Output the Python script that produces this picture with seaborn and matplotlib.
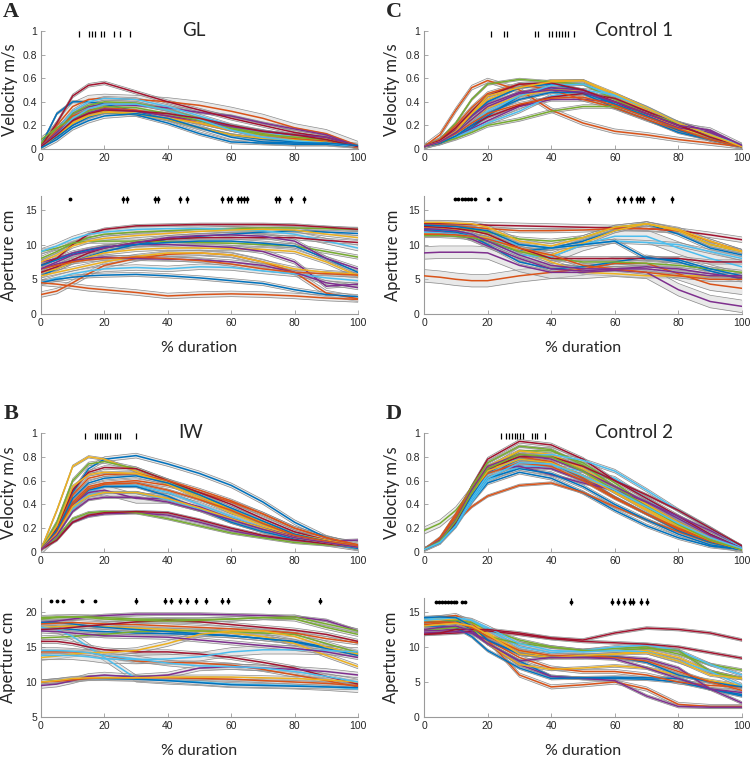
import numpy as np
import matplotlib
matplotlib.use("Agg")
import matplotlib.pyplot as plt
import seaborn as sns

# % of movement duration at which every trace is sampled
pct = [0, 5, 10, 15, 20, 30, 40, 50, 60, 70, 80, 90, 100]

# MATLAB default colour order (traces cycle through it)
matlab_colors = ["#0072BD", "#D95319", "#EDB120", "#7E2F8E", "#77AC30", "#4DBEEE", "#A2142F"]

# ---------------- A: GL ----------------
gl_vel = [
    [0.03, 0.30, 0.40, 0.40, 0.38, 0.32, 0.25, 0.18, 0.12, 0.08, 0.06, 0.05, 0.02],
    [0.03, 0.20, 0.36, 0.42, 0.43, 0.42, 0.40, 0.37, 0.32, 0.26, 0.18, 0.13, 0.03],
    [0.01, 0.10, 0.22, 0.30, 0.32, 0.30, 0.25, 0.18, 0.12, 0.09, 0.08, 0.06, 0.02],
    [0.02, 0.15, 0.30, 0.36, 0.38, 0.37, 0.35, 0.31, 0.28, 0.22, 0.17, 0.12, 0.02],
    [0.05, 0.17, 0.30, 0.37, 0.40, 0.39, 0.33, 0.26, 0.18, 0.13, 0.09, 0.07, 0.02],
    [0.02, 0.16, 0.32, 0.40, 0.43, 0.42, 0.36, 0.28, 0.20, 0.15, 0.10, 0.07, 0.02],
    [0.02, 0.22, 0.45, 0.54, 0.56, 0.48, 0.40, 0.33, 0.26, 0.20, 0.14, 0.10, 0.02],
    [0.02, 0.10, 0.20, 0.27, 0.31, 0.29, 0.22, 0.13, 0.06, 0.05, 0.04, 0.04, 0.02],
    [0.02, 0.16, 0.28, 0.33, 0.35, 0.33, 0.28, 0.22, 0.16, 0.12, 0.09, 0.07, 0.01],
    [0.01, 0.12, 0.22, 0.28, 0.31, 0.30, 0.26, 0.22, 0.16, 0.12, 0.10, 0.08, 0.02],
    [0.02, 0.14, 0.25, 0.31, 0.34, 0.32, 0.28, 0.24, 0.19, 0.15, 0.12, 0.10, 0.02],
    [0.08, 0.18, 0.26, 0.32, 0.36, 0.35, 0.30, 0.24, 0.17, 0.12, 0.10, 0.08, 0.02],
    [0.02, 0.12, 0.26, 0.34, 0.38, 0.38, 0.33, 0.25, 0.16, 0.10, 0.07, 0.05, 0.02],
    [0.02, 0.12, 0.24, 0.30, 0.33, 0.32, 0.30, 0.26, 0.20, 0.15, 0.12, 0.08, 0.02],
    [0.01, 0.08, 0.18, 0.24, 0.28, 0.30, 0.26, 0.18, 0.10, 0.06, 0.05, 0.05, 0.03],
]
gl_vel_se = [0.01, 0.035, 0.01, 0.01, 0.012, 0.015, 0.015, 0.015, 0.01, 0.01, 0.01, 0.02, 0.01, 0.01, 0.02]
gl_vel_peak = [12, 15, 16, 17, 19, 20, 23, 25, 28]

gl_ap = [
    [5.5, 6.5, 7.5, 8.3, 9.0, 10.0, 10.8, 11.2, 11.5, 11.8, 12.0, 11.8, 11.6],
    [2.8, 3.3, 4.5, 5.8, 7.0, 8.0, 8.6, 8.8, 8.5, 7.5, 6.0, 3.0, 2.2],
    [6.0, 6.5, 7.5, 8.2, 8.8, 9.3, 9.5, 9.5, 9.4, 9.3, 9.0, 7.5, 5.5],
    [7.5, 8.0, 8.8, 9.3, 9.7, 10.0, 10.0, 9.8, 9.6, 9.0, 7.5, 4.0, 4.3],
    [8.0, 9.0, 10.2, 11.0, 11.5, 11.8, 12.0, 12.2, 12.3, 12.4, 12.4, 12.3, 12.2],
    [4.5, 5.2, 5.8, 6.2, 6.5, 6.7, 6.5, 6.8, 6.7, 6.2, 5.8, 5.2, 4.8],
    [7.0, 8.0, 10.0, 11.5, 12.2, 12.7, 12.8, 12.9, 12.9, 12.9, 12.8, 12.5, 12.2],
    [4.5, 5.0, 5.3, 5.5, 5.6, 5.7, 5.5, 5.2, 4.8, 4.4, 3.5, 2.8, 2.5],
    [4.5, 4.3, 4.0, 3.7, 3.5, 3.1, 2.6, 2.8, 2.9, 2.8, 2.6, 2.3, 2.1],
    [5.5, 6.0, 6.5, 7.0, 7.5, 8.3, 8.8, 8.8, 8.5, 7.5, 6.5, 6.0, 5.7],
    [6.5, 7.2, 7.7, 8.0, 8.2, 8.0, 7.9, 7.8, 7.5, 7.0, 6.0, 4.5, 3.8],
    [9.0, 9.5, 10.2, 10.5, 10.5, 10.5, 10.4, 10.3, 10.2, 10.0, 9.8, 9.0, 8.2],
    [9.0, 9.8, 10.8, 11.5, 11.8, 12.2, 12.3, 12.3, 12.2, 12.0, 11.5, 10.5, 9.5],
    [6.0, 6.8, 7.8, 8.8, 9.5, 10.3, 10.8, 11.0, 11.0, 11.0, 11.0, 10.6, 10.3],
    [7.0, 7.8, 8.6, 9.2, 9.6, 10.0, 10.3, 10.5, 10.5, 10.2, 9.8, 8.0, 6.0],
    [6.5, 7.0, 7.5, 7.8, 8.0, 8.2, 8.0, 7.7, 7.2, 6.5, 6.0, 5.8, 5.6],
    [7.5, 8.5, 9.8, 10.5, 10.9, 11.3, 11.6, 11.9, 12.1, 12.2, 12.1, 11.5, 11.0],
    [6.5, 7.5, 8.5, 9.0, 9.5, 10.3, 11.0, 11.3, 11.4, 11.2, 10.5, 8.0, 6.5],
]
gl_ap_se = [0.3, 0.4, 0.3, 0.3, 0.3, 0.4, 0.2, 0.3, 0.4, 0.3, 0.3, 0.3, 0.4, 0.3, 0.3, 0.3, 0.3, 0.3]
gl_ap_peak = [9, 26, 27, 36, 37, 44, 46, 57, 59, 60, 62, 63, 64, 65, 74, 75, 79, 83]
gl_ap_peak_sd = [0.1, 0.45, 0.45, 0.45, 0.45, 0.45, 0.45, 0.45, 0.45, 0.45, 0.45, 0.45, 0.45, 0.45, 0.45, 0.45, 0.45, 0.45]

# ---------------- B: IW ----------------
iw_vel = [
    [0.02, 0.20, 0.50, 0.70, 0.78, 0.81, 0.74, 0.66, 0.56, 0.42, 0.25, 0.12, 0.05],
    [0.02, 0.18, 0.42, 0.55, 0.58, 0.60, 0.56, 0.50, 0.42, 0.32, 0.20, 0.12, 0.06],
    [0.02, 0.35, 0.72, 0.80, 0.78, 0.68, 0.57, 0.45, 0.33, 0.22, 0.14, 0.08, 0.04],
    [0.02, 0.12, 0.25, 0.30, 0.32, 0.33, 0.31, 0.25, 0.18, 0.13, 0.10, 0.09, 0.10],
    [0.02, 0.25, 0.60, 0.74, 0.76, 0.70, 0.60, 0.48, 0.35, 0.24, 0.14, 0.08, 0.05],
    [0.02, 0.15, 0.38, 0.50, 0.55, 0.56, 0.50, 0.40, 0.30, 0.20, 0.12, 0.08, 0.04],
    [0.02, 0.20, 0.52, 0.67, 0.71, 0.70, 0.60, 0.50, 0.40, 0.28, 0.17, 0.10, 0.05],
    [0.02, 0.15, 0.40, 0.52, 0.55, 0.55, 0.47, 0.36, 0.25, 0.17, 0.11, 0.07, 0.03],
    [0.02, 0.18, 0.48, 0.62, 0.65, 0.66, 0.60, 0.52, 0.43, 0.32, 0.20, 0.12, 0.06],
    [0.02, 0.22, 0.55, 0.65, 0.67, 0.66, 0.58, 0.47, 0.35, 0.25, 0.15, 0.10, 0.05],
    [0.02, 0.15, 0.40, 0.50, 0.52, 0.45, 0.45, 0.38, 0.28, 0.20, 0.13, 0.09, 0.05],
    [0.02, 0.12, 0.28, 0.33, 0.34, 0.33, 0.28, 0.22, 0.16, 0.12, 0.08, 0.06, 0.05],
    [0.02, 0.14, 0.36, 0.48, 0.50, 0.50, 0.44, 0.36, 0.27, 0.19, 0.12, 0.08, 0.03],
    [0.02, 0.10, 0.25, 0.31, 0.33, 0.34, 0.33, 0.27, 0.20, 0.14, 0.10, 0.07, 0.04],
    [0.02, 0.18, 0.45, 0.58, 0.62, 0.64, 0.58, 0.48, 0.37, 0.26, 0.15, 0.09, 0.03],
    [0.02, 0.16, 0.40, 0.53, 0.57, 0.58, 0.52, 0.44, 0.35, 0.24, 0.14, 0.09, 0.05],
    [0.02, 0.15, 0.38, 0.47, 0.50, 0.50, 0.45, 0.37, 0.28, 0.20, 0.12, 0.08, 0.04],
    [0.02, 0.14, 0.34, 0.44, 0.46, 0.46, 0.42, 0.35, 0.27, 0.19, 0.12, 0.08, 0.04],
]
iw_vel_se = [0.02, 0.015, 0.01, 0.01, 0.015, 0.01, 0.015, 0.01, 0.015, 0.01, 0.04, 0.01, 0.01, 0.01, 0.015, 0.01, 0.01, 0.01]
iw_vel_peak = [14, 17.1, 17.8, 18.7, 19.4, 20.1, 20.9, 21.7, 23.3, 24.1, 25, 30]

iw_ap = [
    [17.8, 17.7, 17.5, 17.3, 17.2, 17.0, 16.9, 16.8, 16.6, 16.2, 15.7, 14.8, 13.8],
    [14.3, 14.3, 14.3, 14.2, 13.8, 13.0, 12.8, 12.7, 12.4, 11.8, 11.0, 10.2, 9.3],
    [17.8, 17.9, 18.0, 18.0, 17.9, 17.7, 17.5, 17.3, 17.0, 16.5, 15.5, 13.8, 12.2],
    [18.5, 18.7, 19.0, 19.3, 19.5, 19.7, 19.7, 19.7, 19.6, 19.5, 19.3, 18.8, 17.3],
    [16.3, 16.4, 16.5, 16.7, 16.8, 17.2, 17.3, 17.3, 17.2, 17.0, 16.8, 15.5, 14.2],
    [17.8, 17.5, 16.5, 15.0, 13.5, 10.5, 10.2, 10.0, 9.7, 9.6, 9.5, 9.3, 9.0],
    [15.8, 15.8, 15.5, 15.0, 14.6, 14.3, 14.3, 14.0, 13.5, 12.8, 12.0, 10.8, 9.7],
    [18.5, 18.5, 18.3, 18.0, 17.8, 17.5, 17.2, 16.9, 16.6, 16.2, 15.8, 15.0, 14.0],
    [18.3, 18.4, 18.5, 18.4, 18.3, 18.2, 18.0, 17.8, 17.6, 17.3, 17.0, 16.2, 15.6],
    [13.5, 13.7, 14.0, 14.2, 14.2, 14.5, 15.5, 16.8, 17.3, 17.3, 16.5, 15.0, 14.0],
    [9.5, 9.7, 10.2, 10.8, 11.0, 10.7, 11.0, 12.0, 12.2, 12.0, 11.8, 11.5, 11.0],
    [19.0, 19.2, 19.3, 19.3, 19.2, 19.0, 18.9, 18.9, 19.0, 19.2, 19.0, 17.8, 16.8],
    [13.8, 13.8, 13.8, 13.6, 13.3, 13.2, 13.3, 13.6, 14.3, 14.6, 14.6, 14.5, 14.3],
    [17.5, 17.6, 17.8, 18.0, 18.2, 18.6, 18.8, 18.6, 18.2, 17.8, 17.4, 16.8, 15.8],
    [10.0, 10.2, 10.4, 10.5, 10.5, 10.4, 10.2, 9.9, 9.6, 9.5, 9.4, 9.3, 9.2],
    [10.0, 10.1, 10.3, 10.5, 10.6, 10.6, 10.6, 10.5, 10.4, 10.2, 10.0, 9.8, 9.5],
    [10.0, 10.2, 10.5, 10.6, 10.6, 10.6, 10.7, 10.7, 10.7, 10.6, 10.5, 10.3, 10.0],
    [17.3, 17.2, 17.0, 16.8, 16.6, 16.5, 16.4, 16.0, 15.6, 15.2, 14.8, 14.3, 13.5],
    [19.2, 19.3, 19.3, 19.2, 19.0, 18.8, 18.7, 18.8, 19.0, 19.2, 19.3, 18.3, 17.3],
    [14.5, 14.5, 14.4, 14.2, 13.8, 13.3, 12.7, 12.3, 12.2, 12.0, 11.5, 10.8, 10.0],
]
iw_ap_se = [0.3, 0.3, 0.3, 0.2, 0.3, 0.5, 0.3, 0.3, 0.3, 0.4, 0.4, 0.3, 0.6, 0.3, 0.3, 0.3, 0.3, 0.3, 0.3, 0.4]
iw_ap_peak = [3, 5, 7, 13, 17, 30, 39, 41, 44, 46, 49, 52, 57, 59, 72, 88]
iw_ap_peak_sd = [0.1, 0.1, 0.1, 0.1, 0.1, 0.5, 0.5, 0.5, 0.5, 0.5, 0.5, 0.5, 0.5, 0.5, 0.5, 0.5]

# ---------------- C: Control 1 ----------------
c1_vel = [
    [0.02, 0.05, 0.10, 0.18, 0.28, 0.45, 0.52, 0.47, 0.35, 0.25, 0.14, 0.08, 0.02],
    [0.02, 0.12, 0.33, 0.52, 0.58, 0.50, 0.33, 0.22, 0.15, 0.12, 0.08, 0.05, 0.02],
    [0.02, 0.07, 0.17, 0.30, 0.42, 0.52, 0.58, 0.58, 0.45, 0.33, 0.22, 0.12, 0.02],
    [0.02, 0.05, 0.10, 0.17, 0.24, 0.36, 0.42, 0.42, 0.40, 0.32, 0.22, 0.15, 0.02],
    [0.02, 0.08, 0.22, 0.42, 0.55, 0.59, 0.57, 0.55, 0.42, 0.30, 0.20, 0.10, 0.02],
    [0.02, 0.05, 0.10, 0.16, 0.22, 0.32, 0.45, 0.50, 0.46, 0.35, 0.22, 0.12, 0.03],
    [0.02, 0.05, 0.12, 0.20, 0.27, 0.37, 0.44, 0.47, 0.43, 0.32, 0.20, 0.12, 0.02],
    [0.02, 0.06, 0.15, 0.28, 0.40, 0.52, 0.55, 0.50, 0.38, 0.28, 0.18, 0.10, 0.02],
    [0.02, 0.08, 0.20, 0.35, 0.47, 0.55, 0.50, 0.42, 0.35, 0.25, 0.16, 0.08, 0.02],
    [0.02, 0.06, 0.14, 0.25, 0.35, 0.45, 0.50, 0.50, 0.40, 0.30, 0.18, 0.10, 0.02],
    [0.02, 0.07, 0.16, 0.28, 0.38, 0.48, 0.52, 0.50, 0.40, 0.28, 0.18, 0.14, 0.03],
    [0.02, 0.05, 0.09, 0.14, 0.20, 0.25, 0.32, 0.36, 0.36, 0.30, 0.22, 0.12, 0.02],
    [0.02, 0.06, 0.12, 0.22, 0.32, 0.45, 0.54, 0.55, 0.45, 0.35, 0.22, 0.12, 0.03],
    [0.02, 0.07, 0.18, 0.32, 0.45, 0.55, 0.56, 0.50, 0.40, 0.30, 0.20, 0.10, 0.02],
    [0.02, 0.05, 0.11, 0.20, 0.30, 0.42, 0.48, 0.48, 0.38, 0.28, 0.16, 0.08, 0.02],
    [0.02, 0.06, 0.13, 0.22, 0.30, 0.38, 0.43, 0.44, 0.37, 0.27, 0.17, 0.08, 0.02],
    [0.02, 0.06, 0.15, 0.30, 0.45, 0.52, 0.57, 0.58, 0.47, 0.35, 0.22, 0.12, 0.02],
    [0.02, 0.06, 0.14, 0.25, 0.36, 0.47, 0.50, 0.48, 0.40, 0.30, 0.20, 0.16, 0.03],
]
c1_vel_se = [0.01, 0.02, 0.01, 0.015, 0.01, 0.015, 0.01, 0.01, 0.015, 0.01, 0.01, 0.015, 0.01, 0.01, 0.01, 0.015, 0.01, 0.02]
c1_vel_peak = [21, 25, 26, 35, 36, 39.3, 40.3, 41.4, 42.4, 43.3, 44.2, 45.2, 47.2]

c1_ap = [
    [12.5, 12.3, 12.0, 11.5, 10.5, 9.0, 9.5, 10.5, 12.0, 13.0, 11.5, 9.5, 8.5],
    [5.5, 5.3, 5.0, 4.8, 4.8, 5.5, 6.0, 6.5, 7.3, 7.3, 5.8, 4.3, 3.7],
    [11.5, 11.5, 11.5, 11.3, 11.0, 9.5, 7.5, 6.0, 5.8, 5.5, 5.5, 5.5, 5.5],
    [8.8, 8.9, 8.9, 8.9, 8.8, 7.0, 6.0, 6.0, 6.3, 6.0, 3.5, 1.8, 1.1],
    [12.0, 12.2, 12.3, 12.2, 11.8, 10.8, 10.5, 11.0, 12.5, 13.0, 12.0, 10.0, 9.0],
    [12.3, 12.2, 12.0, 11.5, 10.5, 8.5, 8.2, 10.0, 11.2, 11.2, 9.5, 8.0, 6.8],
    [13.0, 13.0, 13.0, 12.9, 12.8, 12.7, 12.6, 12.5, 12.4, 12.3, 12.0, 11.4, 10.7],
    [12.2, 12.0, 11.8, 11.2, 10.0, 7.5, 6.5, 6.8, 7.5, 8.2, 7.5, 6.2, 5.0],
    [12.8, 12.8, 12.7, 12.5, 12.3, 12.0, 12.0, 12.1, 12.3, 12.3, 12.0, 10.5, 9.0],
    [12.5, 12.4, 12.2, 12.0, 11.5, 9.0, 8.5, 10.2, 12.0, 13.0, 12.2, 10.5, 9.0],
    [12.0, 11.8, 11.5, 10.8, 9.8, 8.0, 6.5, 6.2, 6.5, 6.8, 6.5, 5.8, 5.2],
    [11.3, 11.3, 11.2, 11.0, 10.5, 9.0, 8.0, 7.5, 7.5, 7.3, 7.0, 6.5, 6.0],
    [11.8, 11.7, 11.5, 11.2, 10.8, 10.0, 9.5, 10.0, 10.5, 10.3, 10.0, 9.0, 8.0],
    [12.6, 12.5, 12.3, 12.0, 11.5, 9.5, 8.0, 8.0, 8.0, 8.0, 8.0, 7.5, 7.5],
    [12.8, 12.7, 12.6, 12.3, 12.0, 10.0, 9.5, 10.0, 10.5, 8.0, 7.8, 6.5, 5.5],
    [11.5, 11.5, 11.4, 11.2, 10.8, 9.5, 8.5, 7.0, 6.5, 6.0, 5.5, 5.0, 5.0],
    [13.2, 13.2, 13.1, 13.0, 12.5, 10.5, 9.8, 11.0, 12.5, 13.0, 12.0, 10.0, 9.0],
    [12.3, 12.2, 12.0, 11.5, 10.5, 8.5, 7.0, 6.5, 6.5, 6.5, 6.0, 5.5, 5.5],
]
c1_ap_se = [0.3, 0.9, 0.3, 0.9, 0.3, 0.9, 0.4, 0.3, 0.3, 0.3, 0.3, 0.3, 0.3, 0.3, 0.3, 0.3, 0.3, 0.3]
c1_ap_peak = [9.7, 10.7, 11.8, 12.8, 13.9, 14.9, 16, 20, 24, 52, 61, 63, 65, 67, 68, 69, 72, 78]
c1_ap_peak_sd = [0.1, 0.1, 0.1, 0.1, 0.1, 0.1, 0.1, 0.1, 0.1, 0.5, 0.5, 0.5, 0.5, 0.5, 0.5, 0.5, 0.5, 0.5]

# ---------------- D: Control 2 ----------------
c2_vel = [
    [0.02, 0.08, 0.22, 0.42, 0.58, 0.67, 0.62, 0.50, 0.35, 0.22, 0.12, 0.05, 0.02],
    [0.02, 0.10, 0.25, 0.38, 0.47, 0.56, 0.58, 0.50, 0.38, 0.27, 0.17, 0.08, 0.02],
    [0.02, 0.09, 0.25, 0.48, 0.68, 0.82, 0.80, 0.68, 0.50, 0.35, 0.20, 0.08, 0.02],
    [0.02, 0.09, 0.26, 0.50, 0.68, 0.72, 0.70, 0.60, 0.52, 0.40, 0.25, 0.12, 0.03],
    [0.18, 0.24, 0.35, 0.52, 0.68, 0.85, 0.85, 0.75, 0.58, 0.40, 0.23, 0.10, 0.02],
    [0.02, 0.08, 0.22, 0.42, 0.60, 0.72, 0.72, 0.68, 0.62, 0.45, 0.28, 0.15, 0.04],
    [0.02, 0.10, 0.28, 0.55, 0.78, 0.93, 0.90, 0.78, 0.60, 0.45, 0.30, 0.15, 0.03],
    [0.02, 0.08, 0.24, 0.47, 0.66, 0.78, 0.75, 0.62, 0.46, 0.32, 0.18, 0.08, 0.02],
    [0.02, 0.12, 0.32, 0.55, 0.70, 0.80, 0.76, 0.62, 0.46, 0.32, 0.19, 0.09, 0.02],
    [0.02, 0.10, 0.28, 0.52, 0.72, 0.85, 0.82, 0.70, 0.55, 0.40, 0.25, 0.12, 0.02],
    [0.02, 0.10, 0.28, 0.52, 0.70, 0.72, 0.65, 0.58, 0.52, 0.42, 0.30, 0.18, 0.05],
    [0.02, 0.10, 0.28, 0.55, 0.75, 0.89, 0.86, 0.73, 0.55, 0.38, 0.22, 0.10, 0.03],
    [0.02, 0.08, 0.22, 0.45, 0.65, 0.80, 0.82, 0.77, 0.68, 0.52, 0.35, 0.20, 0.04],
    [0.02, 0.09, 0.25, 0.50, 0.70, 0.80, 0.80, 0.72, 0.60, 0.48, 0.35, 0.20, 0.05],
    [0.02, 0.08, 0.22, 0.44, 0.62, 0.70, 0.66, 0.55, 0.40, 0.27, 0.15, 0.06, 0.02],
    [0.02, 0.11, 0.30, 0.52, 0.66, 0.75, 0.72, 0.60, 0.45, 0.32, 0.20, 0.10, 0.02],
    [0.02, 0.10, 0.27, 0.50, 0.68, 0.78, 0.75, 0.64, 0.50, 0.36, 0.22, 0.10, 0.02],
    [0.02, 0.10, 0.27, 0.52, 0.72, 0.82, 0.78, 0.68, 0.55, 0.42, 0.28, 0.14, 0.03],
    [0.02, 0.09, 0.26, 0.50, 0.70, 0.82, 0.80, 0.68, 0.52, 0.38, 0.23, 0.10, 0.02],
    [0.02, 0.08, 0.22, 0.44, 0.62, 0.75, 0.74, 0.64, 0.52, 0.38, 0.24, 0.12, 0.03],
]
c2_vel_se = [0.015, 0.01, 0.01, 0.01, 0.03, 0.015, 0.015, 0.01, 0.01, 0.01, 0.01, 0.01, 0.015, 0.01, 0.015, 0.01, 0.01, 0.01, 0.01, 0.01]
c2_vel_peak = [24.1, 25.9, 26.8, 27.6, 28.5, 29.3, 30.1, 31, 33.9, 34.8, 35.6, 38.1]

c2_ap = [
    [13.5, 13.6, 13.8, 12.5, 10.5, 8.0, 5.8, 5.5, 5.5, 5.4, 5.0, 4.0, 3.0],
    [14.0, 14.2, 14.5, 13.5, 11.0, 6.0, 4.3, 4.6, 5.0, 4.0, 1.8, 1.5, 1.5],
    [13.8, 13.9, 14.0, 13.5, 12.0, 9.5, 8.5, 8.5, 9.0, 9.5, 8.5, 6.5, 5.5],
    [12.3, 12.4, 12.5, 12.0, 10.5, 7.5, 5.8, 5.5, 5.2, 3.0, 1.5, 1.4, 1.4],
    [13.5, 13.6, 13.8, 13.5, 12.5, 11.0, 10.0, 9.5, 9.8, 10.0, 9.0, 7.5, 6.7],
    [14.0, 14.1, 14.2, 13.8, 12.5, 10.0, 9.2, 9.5, 10.0, 10.3, 9.5, 7.5, 6.0],
    [11.8, 11.9, 12.0, 12.2, 12.3, 11.8, 11.2, 10.8, 10.6, 10.4, 10.0, 9.2, 8.4],
    [13.0, 13.0, 12.8, 11.5, 9.5, 7.0, 5.5, 5.6, 5.7, 5.6, 5.5, 4.0, 3.2],
    [13.5, 13.6, 13.5, 12.8, 11.0, 8.5, 7.0, 6.5, 6.5, 6.0, 5.0, 4.5, 4.3],
    [13.8, 14.0, 14.2, 13.0, 10.5, 7.5, 6.8, 7.0, 7.3, 7.0, 6.0, 5.2, 4.5],
    [12.0, 12.1, 12.2, 12.0, 11.0, 9.0, 8.5, 8.5, 8.6, 8.3, 7.0, 4.0, 2.0],
    [12.5, 12.6, 12.8, 12.5, 11.5, 10.5, 10.0, 9.5, 9.5, 9.8, 9.5, 6.5, 5.5],
    [13.8, 14.0, 14.2, 13.8, 12.8, 10.5, 9.5, 9.3, 9.5, 9.3, 8.0, 6.5, 4.5],
    [11.8, 12.0, 12.5, 12.5, 12.5, 12.0, 11.3, 11.0, 12.0, 12.7, 12.5, 12.0, 11.0],
    [14.2, 14.3, 14.2, 13.0, 11.0, 9.0, 8.5, 8.8, 8.6, 7.8, 6.0, 5.0, 4.3],
    [13.2, 13.4, 13.5, 12.8, 11.5, 9.5, 8.8, 8.8, 8.5, 8.0, 6.5, 5.0, 3.8],
    [13.0, 13.2, 13.4, 13.0, 11.8, 9.0, 8.5, 8.8, 9.0, 9.2, 8.0, 6.0, 5.5],
    [12.5, 12.8, 13.0, 12.3, 10.5, 8.0, 8.5, 8.5, 8.3, 7.0, 5.5, 4.0, 3.5],
]
c2_ap_se = [0.2, 0.3, 0.2, 0.2, 0.2, 0.2, 0.2, 0.2, 0.3, 0.2, 0.2, 0.2, 0.3, 0.2, 0.2, 0.2, 0.2, 0.2]
c2_ap_peak = [3.8, 4.7, 5.6, 6.5, 7.5, 8.4, 9.3, 10.2, 12, 12.9, 46.1, 59, 60.9, 62.8, 64.8, 65.7, 68.2, 70.2]
c2_ap_peak_sd = [0.1] * 10 + [0.5] * 8

# ---------------- style ----------------
sns.set_style("ticks")
plt.rcParams["font.family"] = ["Liberation Sans", "DejaVu Sans"]
plt.rcParams["xtick.direction"] = "in"
plt.rcParams["ytick.direction"] = "in"

W, H = 750, 759
fig = plt.figure(figsize=(W / 100, H / 100), dpi=100)
label_font = ["Lato", "DejaVu Sans"]


def px_axes(left, top, right, bottom):
    return fig.add_axes([left / W, 1 - bottom / H, (right - left) / W, (bottom - top) / H])


def draw_traces(ax, curves, se):
    for i, (vals, s) in enumerate(zip(curves, se)):
        v = np.array(vals)
        ax.fill_between(pct, v - s, v + s, color="#cfcfcf", alpha=0.45, lw=0, zorder=2)
        ax.plot(pct, v - s, color="#8a8a8a", lw=0.5, zorder=2)
        ax.plot(pct, v + s, color="#8a8a8a", lw=0.5, zorder=2)
        sns.lineplot(x=pct, y=v, color=matlab_colors[i % 7], lw=1.1, ax=ax, zorder=3)


def style_axes(ax, ylim, yticks, yticklabels, ylabel, label_x, width):
    ax.set_xlim(0, 100)
    ax.set_ylim(*ylim)
    ax.set_xticks([0, 20, 40, 60, 80, 100])
    ax.set_yticks(yticks)
    ax.set_yticklabels(yticklabels)
    for side in ["top", "right"]:
        ax.spines[side].set_visible(False)
    for side in ["left", "bottom"]:
        ax.spines[side].set_color("#9a9a9a")
        ax.spines[side].set_linewidth(0.8)
    ax.tick_params(labelsize=7.5, length=3, width=0.6, color="#9a9a9a", labelcolor="#262626", pad=3)
    ax.set_ylabel(ylabel, fontsize=12, family=label_font, va="center")
    ax.yaxis.set_label_coords(label_x / width, 0.5)
    ax.set_xlabel("")


vel_ticks = [0, 0.2, 0.4, 0.6, 0.8, 1]
vel_labels = ["0", "0.2", "0.4", "0.6", "0.8", "1"]

panels = [
    # letter, title, data..., axes x range, row y ranges, aperture ylim, marker row,
    # aperture ticks, ylabel centres (px from axis left), title x, title align
    ("A", "GL", gl_vel, gl_vel_se, gl_vel_peak, gl_ap, gl_ap_se, gl_ap_peak, gl_ap_peak_sd,
     41, 358, (31, 149), (196, 314), (0, 17), 16.5, [0, 5, 10, 15], -31, -32, 194, "center"),
    ("C", "Control 1", c1_vel, c1_vel_se, c1_vel_peak, c1_ap, c1_ap_se, c1_ap_peak, c1_ap_peak_sd,
     424, 742, (31, 149), (196, 314), (0, 17), 16.5, [0, 5, 10, 15], -32, -31, 595, "left"),
    ("B", "IW", iw_vel, iw_vel_se, iw_vel_peak, iw_ap, iw_ap_se, iw_ap_peak, iw_ap_peak_sd,
     41, 358, (433, 552), (598, 717), (5, 22), 21.6, [5, 10, 15, 20], -32, -33, 191, "center"),
    ("D", "Control 2", c2_vel, c2_vel_se, c2_vel_peak, c2_ap, c2_ap_se, c2_ap_peak, c2_ap_peak_sd,
     424, 742, (433, 552), (598, 717), (0, 17), 16.5, [0, 5, 10, 15], -32, -33, 595, "left"),
]

for (letter, title, vel, vel_se, vel_peak, ap, ap_se, ap_peak, ap_sd,
     left, right, vrow, arow, ap_ylim, ap_marker_y, ap_ticks, vlab, alab, title_x, title_ha) in panels:
    width = right - left
    ax_v = px_axes(left, vrow[0], right, vrow[1])
    draw_traces(ax_v, vel, vel_se)
    ax_v.plot(vel_peak, [0.975] * len(vel_peak), ls="none", marker="|", ms=4, mew=0.9, color="k", zorder=5)
    style_axes(ax_v, (0, 1), vel_ticks, vel_labels, "Velocity m/s", vlab, width)

    ax_a = px_axes(left, arow[0], right, arow[1])
    draw_traces(ax_a, ap, ap_se)
    ax_a.errorbar(ap_peak, [ap_marker_y] * len(ap_peak), yerr=ap_sd, fmt=".", ms=3.5,
                  color="k", elinewidth=0.9, capsize=0, zorder=5)
    style_axes(ax_a, ap_ylim, ap_ticks, [str(t) for t in ap_ticks], "Aperture cm", alab, width)

    # panel letter, title and x label
    fig.text((left - 30) / W, 1 - (vrow[0] - 19) / H, letter, fontsize=16, fontweight="bold",
             family=["Liberation Serif"], ha="center", va="center")
    fig.text(title_x / W, 1 - vrow[0] / H, title, fontsize=13.5,
             family=label_font, ha=title_ha, va="center")
    fig.text((left + right) / 2 / W, 1 - (arow[1] + 34) / H, "% duration", fontsize=11.5,
             family=label_font, ha="center", va="center")

fig.savefig("out.png", dpi=100)
